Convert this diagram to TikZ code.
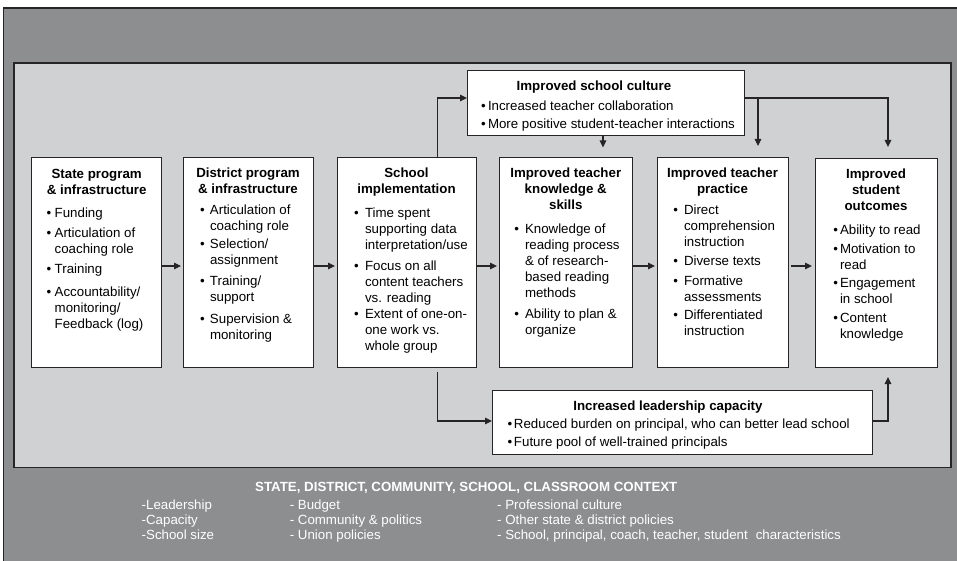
\documentclass[tikz,border=0pt]{standalone}
\usepackage{fontspec}
\setmainfont{Liberation Sans}
\usetikzlibrary{arrows.meta}
\definecolor{outerg}{RGB}{141,142,144}
\definecolor{innerg}{RGB}{208,209,211}
\definecolor{ink}{RGB}{38,36,37}
\newlength\bx
\newlength\dx
\newcommand\btitle[1]{{\centering\bfseries\strut #1\par}}
\newcommand\bitem[2][4pt]{\par\vspace{#1}\hangindent=\dimexpr\bx+\dx\relax\hangafter=1\noindent\hspace*{\bx}\makebox[\dx][l]{\textbullet}#2\par}
\newcommand\boxc[5]{\parbox[c][#2][t]{#1}{\fontsize{13.3}{16}\selectfont\parskip=0pt\hyphenpenalty=10000\bx=#3\dx=#4\vspace*{9.5pt}#5}}
\tikzset{
  x=1pt, y=-1pt,
  wbox/.style={draw=ink, line width=0.9pt, fill=white, inner sep=0pt, outer sep=0pt, anchor=north west},
  arr/.style={draw=ink, line width=1.1pt, -{Triangle[length=7pt,width=6.5pt]}},
  ctx/.style={text=white, font=\fontsize{13.3}{16}\selectfont, inner sep=0pt, anchor=base west},
}
\begin{document}
\begin{tikzpicture}
\useasboundingbox (0,0) rectangle (957,561);
\begin{scope}
\clip (0,0) rectangle (957,561);
\draw[fill=outerg, draw=ink, line width=1.2pt] (3.5,8) rectangle (970,580);
\end{scope}
\draw[fill=innerg, draw=ink, line width=1.4pt] (14,63) rectangle (951,467.5);

\node[wbox] (state) at (31.7,157.5) {\boxc{130pt}{209.5pt}{15pt}{8pt}{%
\btitle{State program\\ \& infrastructure}
\bitem[7.5pt]{Funding}
\bitem[4pt]{Articulation of\\coaching role}
\bitem[4pt]{Training}
\bitem[7pt]{Accountability/\\monitoring/\\Feedback (log)}}};

\node[wbox] (district) at (183,157) {\boxc{130pt}{210pt}{17pt}{10pt}{%
\btitle{District program\\ \& infrastructure}
\bitem[5pt]{Articulation of\\coaching role}
\bitem[2pt]{Selection/\\assignment}
\bitem[5pt]{Training/\\support}
\bitem[5.5pt]{Supervision \&\\monitoring}}};

\node[wbox] (school) at (337,157) {\boxc{139pt}{210pt}{17pt}{11pt}{%
\btitle{School\\implementation}
\bitem[8pt]{Time spent\\supporting data\\interpretation/use}
\bitem[4.3pt]{Focus on all\\content teachers\\vs. reading}
\bitem[0.5pt]{Extent of one-on-\\one work vs.\\whole group}}};

\node[wbox] (know) at (499,157) {\boxc{133.5pt}{210pt}{15.3pt}{10.7pt}{%
\btitle{Improved teacher\\knowledge \&\\skills}
\bitem[7.3pt]{Knowledge of\\reading process\\\& of research-\\based reading\\methods}
\bitem[5.3pt]{Ability to plan \&\\organize}}};

\node[wbox] (prac) at (657,157) {\boxc{131pt}{210pt}{16.3pt}{10.7pt}{%
\btitle{Improved teacher\\practice}
\bitem[5pt]{Direct\\comprehension\\instruction}
\bitem[2.3pt]{Diverse texts}
\bitem[4.7pt]{Formative\\assessments}
\bitem[1.6pt]{Differentiated\\instruction}}};

\node[wbox] (out) at (815,158) {\boxc{122pt}{209pt}{18.3pt}{6.7pt}{%
\btitle{Improved\\student\\outcomes}
\bitem[7.6pt]{Ability to read}
\bitem[3pt]{Motivation to\\read}
\bitem[2pt]{Engagement\\in school}
\bitem[2.7pt]{Content\\knowledge}}};

\node[wbox] (culture) at (467,70) {\boxc{277pt}{65pt}{14pt}{7pt}{%
\noindent\hspace*{49.7pt}\strut\textbf{Improved school culture}\par
\bitem[4pt]{Increased teacher collaboration}
\bitem[1.6pt]{More positive student-teacher interactions}}};

\node[wbox] (lead) at (492,390) {\boxc{380pt}{64pt}{15.7pt}{6.3pt}{%
\noindent\hspace*{81.3pt}\strut\textbf{Increased leadership capacity}\par
\bitem[1.6pt]{Reduced burden on principal, who can better lead school}
\bitem[2.4pt]{Future pool of well-trained principals}}};

\coordinate (ya) at (0,266);
\coordinate (c1) at (437.5,98);
\coordinate (k1) at (603,0);
\coordinate (b1) at (758,98);
\coordinate (o1) at (888,0);
\coordinate (l1) at (0,421);

\draw[arr, shorten >=2pt] (state.east |- ya) -- (district.west |- ya);
\draw[arr, shorten >=2pt] (district.east |- ya) -- (school.west |- ya);
\draw[arr, shorten >=2pt] (school.east |- ya) -- (know.west |- ya);
\draw[arr, shorten >=2pt] (know.east |- ya) -- (prac.west |- ya);
\draw[arr, shorten <=3pt, shorten >=3pt] (prac.east |- ya) -- (out.west |- ya);

\draw[arr] (school.north -| c1) |- (culture.west |- c1);
\draw[arr, shorten >=9.5pt] (culture.south -| k1) -- (know.north -| k1);
\draw[arr, shorten >=11pt] (culture.east |- c1) -| (out.north -| o1);
\draw[arr, shorten >=11pt] (b1) -- (prac.north -| b1);
\draw[arr, shorten <=5pt] (school.south -| c1) |- (lead.west |- l1);
\draw[arr, shorten >=10pt] (lead.east |- l1) -| (out.south -| o1);

\node[ctx, font=\fontsize{13.3}{16}\selectfont\bfseries] (ctitle) at (255,491.4) {STATE, DISTRICT, COMMUNITY, SCHOOL, CLASSROOM CONTEXT};
\node[ctx] (a1) at (141.5,509.5) {-Leadership};
\node[ctx] (a2) at (141.5,524.5) {-Capacity};
\node[ctx] (a3) at (141.5,539) {-School size};
\node[ctx] (b1t) at (289.6,509.5) {- Budget};
\node[ctx] (b2t) at (289.6,524.5) {- Community \& politics};
\node[ctx] (b3t) at (289.6,539) {- Union policies};
\node[ctx] (d1) at (497,509.5) {- Professional culture};
\node[ctx] (d2) at (497,524.5) {- Other state \& district policies};
\node[ctx] (d3) at (497,539) {- School, principal, coach, teacher, student\hspace{0.6em}characteristics};
\end{tikzpicture}
\end{document}
